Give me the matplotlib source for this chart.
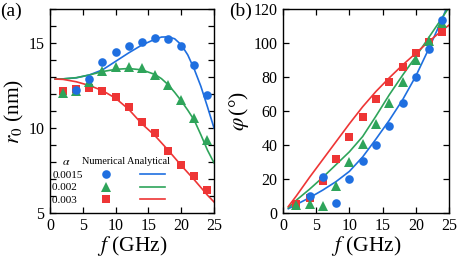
import numpy as np
import matplotlib
matplotlib.use("Agg")
import matplotlib.pyplot as plt
from matplotlib.lines import Line2D
from matplotlib.legend_handler import HandlerTuple
from matplotlib.ticker import MultipleLocator

plt.rcParams['font.family'] = ['Liberation Serif', 'DejaVu Serif']
plt.rcParams['mathtext.fontset'] = 'stix'

blue = '#1f6fe0'
green = '#2ea45a'
red = '#ee3535'

# numerical points
f_num = [2, 4, 6, 8, 10, 12, 14, 16, 18, 20, 22, 24]
f_num_blue = f_num[1:]

r_blue = [12.24, 12.88, 13.88, 14.47, 14.82, 15.08, 15.29, 15.25, 14.82, 13.70, 11.96]
r_green = [12.04, 12.2, 12.69, 13.37, 13.57, 13.60, 13.51, 13.12, 12.53, 11.65, 10.57, 9.30]
r_red = [12.19, 12.3, 12.33, 12.19, 11.80, 11.22, 10.37, 9.72, 8.65, 7.82, 7.20, 6.33]

phi_blue = [10.0, 21.0, 6.1, 19.8, 30.8, 40.2, 51.4, 64.9, 79.8, 96.5, 113.5]
phi_green = [4.8, 5.2, 4.1, 16.0, 30.1, 40.4, 52.4, 64.8, 76.9, 90.0, 101.1, 111.7]
phi_red = [5.3, 9.0, 19.0, 31.8, 44.5, 56.7, 67.0, 76.9, 86.1, 93.9, 100.5, 106.7]

# analytical curves
f_an_a = [0.8, 2, 4, 6, 8, 10, 12, 14, 16, 17, 18, 19, 20, 21, 22, 23, 24, 25]
ra_blue = [12.88, 12.89, 12.95, 13.12, 13.42, 13.92, 14.42, 14.88, 15.22, 15.35, 15.36,
           15.25, 14.90, 14.30, 13.45, 12.45, 11.25, 10.0]
ra_green = [12.88, 12.89, 12.96, 13.12, 13.32, 13.45, 13.50, 13.42, 13.15, 12.90, 12.55,
            12.10, 11.60, 11.05, 10.45, 9.60, 8.70, 7.95]
f_an_a_red = [0.8, 2, 4, 6, 8, 10, 12, 14, 16, 18, 20, 22, 24, 25]
ra_red = [12.88, 12.86, 12.72, 12.50, 12.20, 11.75, 11.10, 10.25, 9.55, 8.70, 7.80, 6.95, 6.05, 5.65]

f_an_b = [0.8, 2, 4, 6, 8, 10, 12, 14, 16, 18, 20, 22, 24, 25]
pa_blue = [2.5, 5.0, 9.0, 13.5, 18.5, 24.5, 33.0, 43.5, 54.5, 66.5, 80.5, 97.0, 114.5, 124.0]
pa_green = [3.0, 7.5, 14.0, 21.0, 28.5, 36.0, 45.0, 57.0, 69.5, 81.0, 92.0, 103.5, 115.0, 121.0]
pa_red = [3.8, 10.0, 21.0, 31.5, 42.0, 52.5, 62.5, 71.5, 79.5, 87.0, 94.0, 101.0, 107.5, 110.5]

alphas = ['0.0015', '0.002', '0.003']

fig = plt.figure(figsize=(4.59, 2.64), dpi=100)
ax1 = fig.add_axes([50/459, 51/264, 164/459, 204/264])
ax2 = fig.add_axes([283/459, 51/264, 166/459, 204/264])

lw = 1.2
ax1.plot(f_an_a, ra_blue, color=blue, lw=lw)
ax1.plot(f_an_a, ra_green, color=green, lw=lw)
ax1.plot(f_an_a_red, ra_red, color=red, lw=lw)
ax1.plot(f_num, r_red, 's', color=red, ms=5.2, mew=0)
ax1.plot(f_num, r_green, '^', color=green, ms=6.5, mew=0)
ax1.plot(f_num_blue, r_blue, 'o', color=blue, ms=6.2, mew=0)

ax2.plot(f_an_b, pa_blue, color=blue, lw=lw)
ax2.plot(f_an_b, pa_green, color=green, lw=lw)
ax2.plot(f_an_b, pa_red, color=red, lw=lw)
ax2.plot(f_num, phi_red, 's', color=red, ms=5.2, mew=0)
ax2.plot(f_num, phi_green, '^', color=green, ms=6.5, mew=0)
ax2.plot(f_num_blue, phi_blue, 'o', color=blue, ms=6.2, mew=0)

ax1.set_xlim(0, 25)
ax1.set_ylim(5, 17)
ax2.set_xlim(0, 25)
ax2.set_ylim(0, 120)

ax1.xaxis.set_major_locator(MultipleLocator(5))
ax1.yaxis.set_major_locator(MultipleLocator(5))
ax1.yaxis.set_minor_locator(MultipleLocator(1))
ax2.xaxis.set_major_locator(MultipleLocator(5))
ax2.yaxis.set_major_locator(MultipleLocator(20))

for ax in (ax1, ax2):
    ax.tick_params(which='both', direction='in', top=True, right=True,
                   length=4, width=0.9, labelsize=11.5, pad=4)
    ax.tick_params(axis='x', pad=3.5)
    for s in ax.spines.values():
        s.set_linewidth(1.0)
    ax.set_xlabel(r'$f$ (GHz)', fontsize=15.5, labelpad=0)

ax1.set_ylabel(r'$r_0$ (nm)', fontsize=15.5, labelpad=2)
ax2.set_ylabel(r'$\varphi\,$(°)', fontsize=15.5, labelpad=2)

# legend in panel (a); pad shorter labels with a figure space so they line up left
width = max(len(a) for a in alphas)
labels = [a + '\u2007' * (width - len(a)) for a in alphas]
h_num = [Line2D([], [], ls='none', marker=m, color=c, ms=s, mew=0)
         for m, c, s in zip(['o', '^', 's'], [blue, green, red], [6.2, 6.5, 5.2])]
h_an = [Line2D([], [], color=c, lw=lw) for c in [blue, green, red]]
leg = ax1.legend(handles=list(zip(h_num, h_an)), labels=labels, markerfirst=False,
                 handler_map={tuple: HandlerTuple(ndivide=None, pad=2.0)},
                 handlelength=6.4, handletextpad=1.0, labelspacing=0.22,
                 fontsize=8, frameon=False, loc='lower left',
                 bbox_to_anchor=(0.0, 0.03), borderpad=0.2, borderaxespad=0)
ax1.text(0.098, 0.252, r'$\alpha$', transform=ax1.transAxes, fontsize=8.5,
         ha='center', va='center')
ax1.text(0.195, 0.252, 'Numerical Analytical', transform=ax1.transAxes,
         fontsize=7.3, ha='left', va='center')

fig.text(0.0, 0.958, '(a)', fontsize=14, ha='left', va='center')
fig.text(229/459, 0.958, '(b)', fontsize=14, ha='left', va='center')

fig.savefig('out.png', dpi=100)
